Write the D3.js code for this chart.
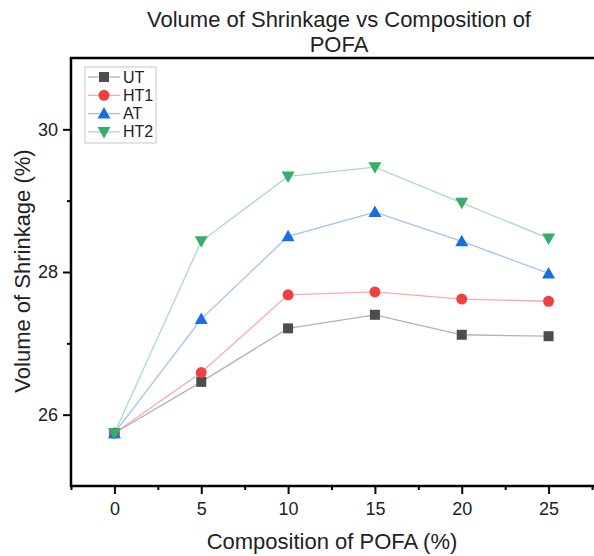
<!DOCTYPE html>
<html><head><meta charset="utf-8">
<script src="https://cdn.jsdelivr.net/npm/d3@7"></script>
<style>body{margin:0;background:#fff}svg{display:block}text{font-family:"Liberation Sans",Arial,sans-serif}</style>
</head><body>
<svg id="c" width="594" height="556"></svg>
<script>
const compositions = [0, 5, 10, 15, 20, 25];
const seriesNames = ["UT", "HT1", "AT", "HT2"];
const utValues  = [25.74, 26.46, 27.21, 27.40, 27.12, 27.10];
const ht1Values = [25.74, 26.59, 27.68, 27.72, 27.62, 27.59];
const atValues  = [25.74, 27.34, 28.50, 28.84, 28.43, 27.98];
const ht2Values = [25.74, 28.43, 29.34, 29.47, 28.97, 28.47];
const xTicks = [0, 5, 10, 15, 20, 25];
const yTicks = [26, 28, 30];
const titleLines = ["Volume of Shrinkage vs Composition of", "POFA"];

const series = [
  {name: "UT", values: utValues, marker: "#4d4d4d", line: "#b3b3b3", shape: "square"},
  {name: "HT1", values: ht1Values, marker: "#f14040", line: "#f7abab", shape: "circle"},
  {name: "AT", values: atValues, marker: "#1a6fdf", line: "#a0c2f0", shape: "up"},
  {name: "HT2", values: ht2Values, marker: "#37ad6b", line: "#a9dcbc", shape: "down"}
];

const svg = d3.select("#c");
const L = 71, R = 592, T = 58, B = 486;
const x = d3.scaleLinear().domain([-2.5, 27.5]).range([L, R]);
const y = d3.scaleLinear().domain([25, 31]).range([B, T]);

// title
svg.append("text").attr("x", 339).attr("y", 27).attr("text-anchor", "middle")
  .attr("font-size", 22).attr("fill", "#222").text(titleLines[0]);
svg.append("text").attr("x", 339).attr("y", 52).attr("text-anchor", "middle")
  .attr("font-size", 22).attr("fill", "#222").text(titleLines[1]);

// series lines
const line = d3.line().x((d, i) => x(compositions[i])).y(d => y(d));
series.forEach(s => {
  svg.append("path").attr("d", line(s.values)).attr("fill", "none")
    .attr("stroke", s.line).attr("stroke-width", 1.3);
});

function drawMarker(g, shape, cx, cy, color) {
  if (shape === "square") {
    g.append("rect").attr("x", cx - 5).attr("y", cy - 5).attr("width", 10).attr("height", 10).attr("fill", color);
  } else if (shape === "circle") {
    g.append("circle").attr("cx", cx).attr("cy", cy).attr("r", 5.5).attr("fill", color);
  } else if (shape === "up") {
    g.append("path").attr("d", `M${cx},${cy-6.5}L${cx+6.5},${cy+5}L${cx-6.5},${cy+5}Z`).attr("fill", color);
  } else {
    g.append("path").attr("d", `M${cx},${cy+6.5}L${cx+6.5},${cy-5}L${cx-6.5},${cy-5}Z`).attr("fill", color);
  }
}
series.forEach(s => {
  const g = svg.append("g");
  s.values.forEach((v, i) => drawMarker(g, s.shape, x(compositions[i]), y(v), s.marker));
});

// axes
const axisColor = "#000";
const xAxis = d3.axisBottom(x).tickValues(xTicks).tickSize(8).tickPadding(8).tickFormat(d3.format("d"));
const gx = svg.append("g").attr("transform", `translate(0,${B})`).call(xAxis);
gx.selectAll(".tick line").attr("stroke-width", 2);
gx.select(".domain").remove();
gx.selectAll("text").attr("font-size", 18).attr("fill", "#222");
const xMinor = d3.axisBottom(x).tickValues([-2.5, 2.5, 7.5, 12.5, 17.5, 22.5, 27.5]).tickSize(4).tickFormat("");
const gxm = svg.append("g").attr("transform", `translate(0,${B})`).call(xMinor);
gxm.select(".domain").remove();
gxm.selectAll(".tick line").attr("stroke-width", 2);

const yAxis = d3.axisLeft(y).tickValues(yTicks).tickSize(8).tickPadding(5).tickFormat(d3.format("d"));
const gy = svg.append("g").attr("transform", `translate(${L},0)`).call(yAxis);
gy.select(".domain").remove();
gy.selectAll(".tick line").attr("stroke-width", 2);
gy.selectAll("text").attr("font-size", 18).attr("fill", "#222");
const yMinor = d3.axisLeft(y).tickValues([27, 29]).tickSize(4).tickFormat("");
const gym = svg.append("g").attr("transform", `translate(${L},0)`).call(yMinor);
gym.select(".domain").remove();
gym.selectAll(".tick line").attr("stroke-width", 2);

// frame lines
svg.append("line").attr("x1", L).attr("x2", 594).attr("y1", B).attr("y2", B).attr("stroke", axisColor).attr("stroke-width", 2.5);
svg.append("line").attr("x1", L).attr("x2", L).attr("y1", T).attr("y2", B + 1.25).attr("stroke", axisColor).attr("stroke-width", 2.5);
svg.append("line").attr("x1", L - 1.25).attr("x2", 594).attr("y1", T).attr("y2", T).attr("stroke", axisColor).attr("stroke-width", 2.5);

// axis labels
svg.append("text").attr("x", 332).attr("y", 549).attr("text-anchor", "middle")
  .attr("font-size", 22).attr("fill", "#222").text("Composition of POFA (%)");
svg.append("text").attr("transform", "translate(30,271) rotate(-90)").attr("text-anchor", "middle")
  .attr("font-size", 22).attr("fill", "#222").text("Volume of Shrinkage (%)");

// legend
const lg = svg.append("g");
lg.append("rect").attr("x", 85).attr("y", 67).attr("width", 71).attr("height", 76)
  .attr("fill", "#fff").attr("stroke", "#c8c8c8").attr("stroke-width", 1);
series.forEach((s, i) => {
  const cy = 77 + i * 18.3;
  lg.append("line").attr("x1", 88).attr("x2", 120).attr("y1", cy).attr("y2", cy).attr("stroke", s.line).attr("stroke-width", 1.3);
  drawMarker(lg, s.shape, 104, cy, s.marker);
  lg.append("text").attr("x", 123).attr("y", cy + 5.5).attr("font-size", 16).attr("fill", "#222").text(s.name);
});
</script>
</body></html>
